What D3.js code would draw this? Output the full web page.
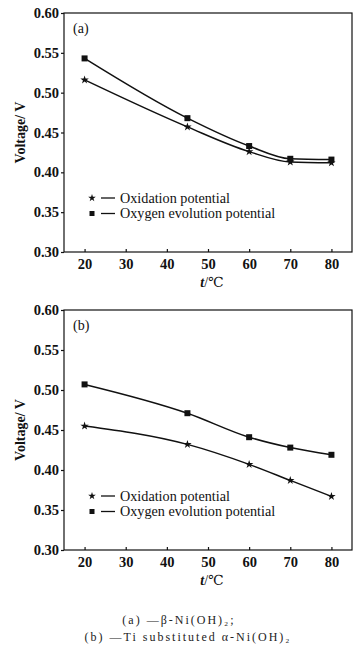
<!DOCTYPE html>
<html><head><meta charset="utf-8">
<script src="https://cdn.jsdelivr.net/npm/d3@7"></script>
<style>body{margin:0;background:#fff}svg{display:block}</style>
</head><body>
<svg id="c" width="359" height="654"></svg>
<script>
const temps = [20, 45, 60, 70, 80];
const xTicks = [20, 30, 40, 50, 60, 70, 80];
const yTicks = [0.30, 0.35, 0.40, 0.45, 0.50, 0.55, 0.60];
const seriesNames = ["Oxidation potential", "Oxygen evolution potential"];
const aOxidation = [0.516, 0.457, 0.426, 0.413, 0.412];
const aOxygen = [0.543, 0.468, 0.433, 0.417, 0.416];
const bOxidation = [0.455, 0.432, 0.407, 0.387, 0.367];
const bOxygen = [0.507, 0.471, 0.441, 0.428, 0.419];
const panelLabels = ["(a)", "(b)"];
const captionLines = ["(a) \u2014\u03B2-Ni(OH)\u2082;", "(b) \u2014Ti substituted \u03B1-Ni(OH)\u2082"];

const svg = d3.select("#c");
svg.append("rect").attr("width",359).attr("height",654).attr("fill","#fff");
const serif = "'Liberation Serif','DejaVu Serif',serif";

const panels = [
  {top:13, bottom:252, label:panelLabels[0], ox:aOxidation, oe:aOxygen},
  {top:310, bottom:550, label:panelLabels[1], ox:bOxidation, oe:bOxygen}
];
const left = 64, right = 352;
const x = d3.scaleLinear().domain([15,85]).range([left,right]);

panels.forEach(p => {
  const y = d3.scaleLinear().domain([0.30,0.60]).range([p.bottom,p.top]);
  const g = svg.append("g");
  g.append("rect").attr("x",left).attr("y",p.top).attr("width",right-left).attr("height",p.bottom-p.top)
    .attr("fill","none").attr("stroke","#111").attr("stroke-width",1.2);
  const ya = g.append("g").attr("transform",`translate(${left},0)`)
    .call(d3.axisLeft(y).tickValues(yTicks).tickFormat(d3.format(".2f")).tickSize(3).tickPadding(2));
  ya.select(".domain").remove();
  ya.selectAll("line").attr("stroke","#111").attr("stroke-width",1.2);
  ya.selectAll("text").attr("font-family",serif).attr("font-weight","bold").attr("font-size",14.5).attr("fill","#111");
  const xa = g.append("g").attr("transform",`translate(0,${p.bottom})`)
    .call(d3.axisBottom(x).tickValues(xTicks).tickSizeInner(-3).tickSizeOuter(0).tickPadding(7));
  xa.select(".domain").remove();
  xa.selectAll("line").attr("stroke","#111").attr("stroke-width",1.2);
  xa.selectAll("text").attr("font-family",serif).attr("font-weight","bold").attr("font-size",14.5).attr("fill","#111");
  g.append("text").attr("transform",`translate(25,${(p.top+p.bottom)/2}) rotate(-90)`)
    .attr("text-anchor","middle").attr("font-family",serif).attr("font-weight","bold").attr("font-size",14).attr("fill","#111")
    .text("Voltage/ V");
  const xt = g.append("text").attr("x",212).attr("y",p.bottom+35).attr("text-anchor","middle")
    .attr("font-family",serif).attr("font-size",14).attr("fill","#111");
  xt.append("tspan").attr("font-style","italic").attr("font-weight","bold").text("t");
  xt.append("tspan").text("/\u2103");
  g.append("text").attr("x",73).attr("y",p.top+20).attr("font-family",serif).attr("font-size",14).attr("fill","#111").text(p.label);
  const line = d3.line().x((d,i)=>x(temps[i])).y(d=>y(d)).curve(d3.curveMonotoneX);
  [p.ox, p.oe].forEach(vals => {
    g.append("path").attr("d",line(vals)).attr("fill","none").attr("stroke","#111").attr("stroke-width",1.5);
  });
  const star = d3.symbol().type(d3.symbolStar).size(22);
  g.selectAll(null).data(p.ox).join("path").attr("d",star)
    .attr("transform",(d,i)=>`translate(${x(temps[i])},${y(d)})`).attr("fill","#111");
  g.selectAll(null).data(p.oe).join("rect")
    .attr("x",(d,i)=>x(temps[i])-3).attr("y",d=>y(d)-3).attr("width",6).attr("height",6).attr("fill","#111");
  // legend
  const ly0 = p.bottom - 54, dy = 15.5;
  seriesNames.forEach((name,k) => {
    const ly = ly0 + k*dy;
    if (k===0) g.append("path").attr("d",d3.symbol().type(d3.symbolStar).size(18)).attr("transform",`translate(92,${ly})`).attr("fill","#111");
    else g.append("rect").attr("x",89.5).attr("y",ly-2.5).attr("width",5).attr("height",5).attr("fill","#111");
    g.append("line").attr("x1",101).attr("x2",115).attr("y1",ly).attr("y2",ly).attr("stroke","#111").attr("stroke-width",1.3);
    g.append("text").attr("x",120).attr("y",ly+4.5).attr("font-family",serif).attr("font-size",14.2).attr("fill","#111").text(name);
  });
});

const capX = [179, 188];
captionLines.forEach((t,i) => {
  svg.append("text").attr("x",capX[i]).attr("y",624+i*17).attr("text-anchor","middle")
    .attr("font-family",serif).attr("font-size",12).attr("letter-spacing",2).attr("fill","#222").text(t);
});
</script>
</body></html>
